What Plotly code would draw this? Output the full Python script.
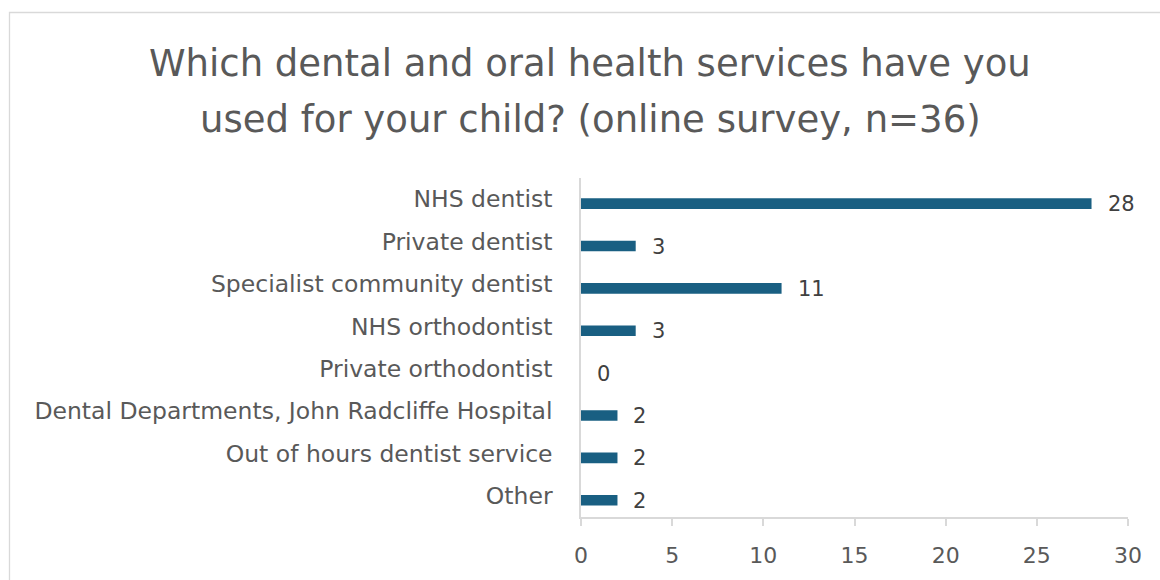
import plotly.graph_objects as go

categories = [
    "NHS dentist",
    "Private dentist",
    "Specialist community dentist",
    "NHS orthodontist",
    "Private orthodontist",
    "Dental Departments, John Radcliffe Hospital",
    "Out of hours dentist service",
    "Other",
]
values = [28, 3, 11, 3, 0, 2, 2, 2]
x_ticks = [0, 5, 10, 15, 20, 25, 30]
title_lines = [
    "Which dental and oral health services have you",
    "used for your child? (online survey, n=36)",
]

FONT = "DejaVu Sans"
GRAY = "#595959"
BAR = "#195F82"
AX = "#d9d9d9"
W, H = 1160, 580
L, R, T, B = 581, 32, 178, 63
pw, ph = W - L - R, H - T - B

fig = go.Figure(go.Bar(
    x=values, y=list(range(len(categories))), orientation="h",
    marker=dict(color=BAR, line=dict(width=0)),
    width=0.25, offset=-0.02, hoverinfo="x",
))

for i, v in enumerate(values):
    fig.add_annotation(x=v, y=i, text=str(v), showarrow=False,
                       xanchor="left", yanchor="middle", xshift=14, yshift=-5,
                       font=dict(family=FONT, size=21, color="#404040"))

def px_x(p):
    return (p - L) / pw

def px_y(p):
    return (H - B - p) / ph

for line, yc in zip(title_lines, [64, 119]):
    fig.add_annotation(xref="paper", yref="paper", x=px_x(590), y=px_y(yc),
                       text=line, showarrow=False, xanchor="center", yanchor="middle",
                       font=dict(family=FONT, size=37, color=GRAY))

fig.add_shape(type="rect", xref="paper", yref="paper",
              x0=px_x(9.5), x1=px_x(1175), y0=px_y(12.5), y1=px_y(600),
              line=dict(color=AX, width=1.3), fillcolor="rgba(0,0,0,0)", layer="below")

fig.update_layout(
    width=W, height=H,
    margin=dict(l=L, r=R, t=T, b=B, pad=0, autoexpand=False),
    paper_bgcolor="white", plot_bgcolor="white",
    showlegend=False,
    font=dict(family=FONT, color=GRAY, size=20),
    xaxis=dict(range=[0, 30], tickvals=x_ticks, ticktext=[str(t) for t in x_ticks],
               showgrid=False, zeroline=False, showline=True, linecolor=AX, linewidth=1.5,
               ticks="outside", ticklen=7, tickcolor=AX, tickwidth=1.5,
               tickfont=dict(family=FONT, size=22, color=GRAY), ticklabelstandoff=11,
               automargin=False, fixedrange=True),
    yaxis=dict(range=[len(categories) - 0.5, -0.5],
               tickvals=list(range(len(categories))), ticktext=categories,
               showgrid=False, zeroline=False, showline=True,
               linecolor=AX, linewidth=1.5, ticks="",
               tickfont=dict(family=FONT, size=23.5, color=GRAY), ticklabelstandoff=22,
               automargin=False, fixedrange=True),
)

fig.write_html("out.html")
